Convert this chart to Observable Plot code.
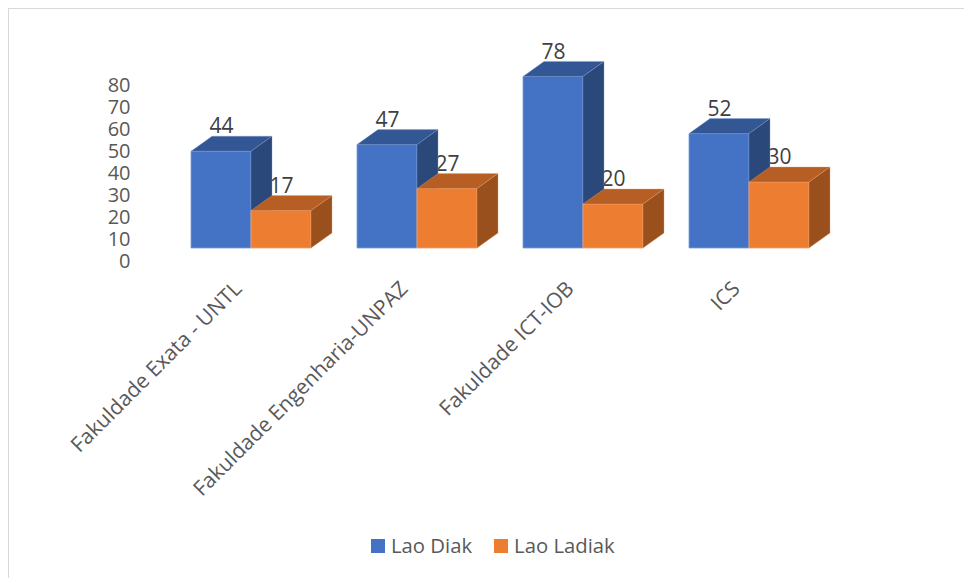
<!DOCTYPE html>
<html>
<head>
<meta charset="utf-8">
<script src="https://cdn.jsdelivr.net/npm/d3@7"></script>
<script src="https://cdn.jsdelivr.net/npm/@observablehq/plot@0.6"></script>
<style>
  html, body { margin: 0; padding: 0; background: #fff; }
  #wrap { position: relative; width: 964px; height: 578px; overflow: hidden; font-family: "Open Sans", sans-serif; }
  #frame { position: absolute; left: 8px; top: 8px; width: 1000px; height: 640px; border: 1px solid #d9d9d9; box-sizing: border-box; }
  #chart { position: absolute; left: 0; top: 0; }
  #legend { position: absolute; top: 531px; left: 371px; display: flex; align-items: center; font-size: 20.3px; line-height: 29px; color: #595959; }
  .sw { display: inline-block; width: 14px; height: 14px; }
  .lab { margin-left: 6px; margin-right: 22px; }
</style>
</head>
<body>
<div id="wrap">
  <div id="frame"></div>
  <div id="chart"></div>
  <div id="legend"></div>
</div>
<script>
const categories = ["Fakuldade Exata - UNTL", "Fakuldade Engenharia-UNPAZ", "Fakuldade ICT-IOB", "ICS"];
const series = ["Lao Diak", "Lao Ladiak"];
const laoDiak = [44, 47, 78, 52];
const laoLadiak = [17, 27, 20, 30];
const yTicks = [0, 10, 20, 30, 40, 50, 60, 70, 80];
const frontColors = ["#4472C4", "#ED7D31"];
const topColors = ["#335694", "#B65E23"];
const sideColors = ["#2A4879", "#9A501D"];
const edgeColors = ["#7E9DD6", "#F2A06A"];

const data = categories.flatMap((c, i) => [
  {category: c, series: series[0], value: laoDiak[i]},
  {category: c, series: series[1], value: laoLadiak[i]}
]);

const DEPTH_X = 21, DEPTH_Y = 15;

function render3d(index, scales, values) {
  const g = d3.create("svg:g");
  const bw = scales.x.bandwidth();
  for (const i of index) {
    const k = series.indexOf(data[i].series);
    const x1 = values.x[i], x2 = x1 + bw;
    const yt = Math.min(values.y1[i], values.y2[i]);
    const yb = Math.max(values.y1[i], values.y2[i]);
    g.append("path")
      .attr("d", `M${x1},${yb}L${x1},${yt}L${x2},${yt}L${x2},${yb}Z`)
      .attr("fill", frontColors[k]).attr("stroke", edgeColors[k]).attr("stroke-width", 0.8);
    g.append("path")
      .attr("d", `M${x1},${yt}L${x1 + DEPTH_X},${yt - DEPTH_Y}L${x2 + DEPTH_X},${yt - DEPTH_Y}L${x2},${yt}Z`)
      .attr("fill", topColors[k]).attr("stroke", edgeColors[k]).attr("stroke-width", 0.6).attr("stroke-opacity", 0.6);
    g.append("path")
      .attr("d", `M${x2},${yt}L${x2 + DEPTH_X},${yt - DEPTH_Y}L${x2 + DEPTH_X},${yb - DEPTH_Y}L${x2},${yb}Z`)
      .attr("fill", sideColors[k]).attr("stroke", edgeColors[k]).attr("stroke-width", 0.6).attr("stroke-opacity", 0.6);
  }
  return g.node();
}

const plot = Plot.plot({
  width: 964,
  height: 500,
  marginLeft: 189,
  marginRight: 153,
  marginTop: 72,
  marginBottom: 252,
  style: {background: "transparent", fontFamily: "'Open Sans', sans-serif", overflow: "visible"},
  fx: {domain: categories, paddingInner: 0.275, paddingOuter: 0, axis: null, label: null},
  x: {domain: series, padding: 0, axis: null},
  y: {domain: [0, 80], axis: null},
  color: {domain: series, range: frontColors},
  marks: [
    Plot.axisY({ticks: yTicks, tickSize: 0, tickPadding: 61, dy: 13, fontSize: 20, fill: "#595959", label: null, tickFormat: d => String(d)}),
    Plot.text(data, {fx: "category", x: "series", y: "value", text: d => String(d.value), dy: -25, fontSize: 21, fill: "#404040"}),
    Plot.barY(data, {fx: "category", x: "series", y: "value", fill: "series", render: render3d}),
    Plot.text(categories, {fx: d => d, frameAnchor: "bottom", text: d => d, rotate: -45, textAnchor: "end", lineAnchor: "top", dx: -19, dy: 31, fontSize: 21, fill: "#595959"})
  ]
});
document.getElementById("chart").appendChild(plot);

const legend = document.getElementById("legend");
series.forEach((s, k) => {
  const sw = document.createElement("span");
  sw.className = "sw";
  sw.style.background = frontColors[k];
  const lab = document.createElement("span");
  lab.className = "lab";
  lab.textContent = s;
  legend.appendChild(sw);
  legend.appendChild(lab);
});
</script>
</body>
</html>
